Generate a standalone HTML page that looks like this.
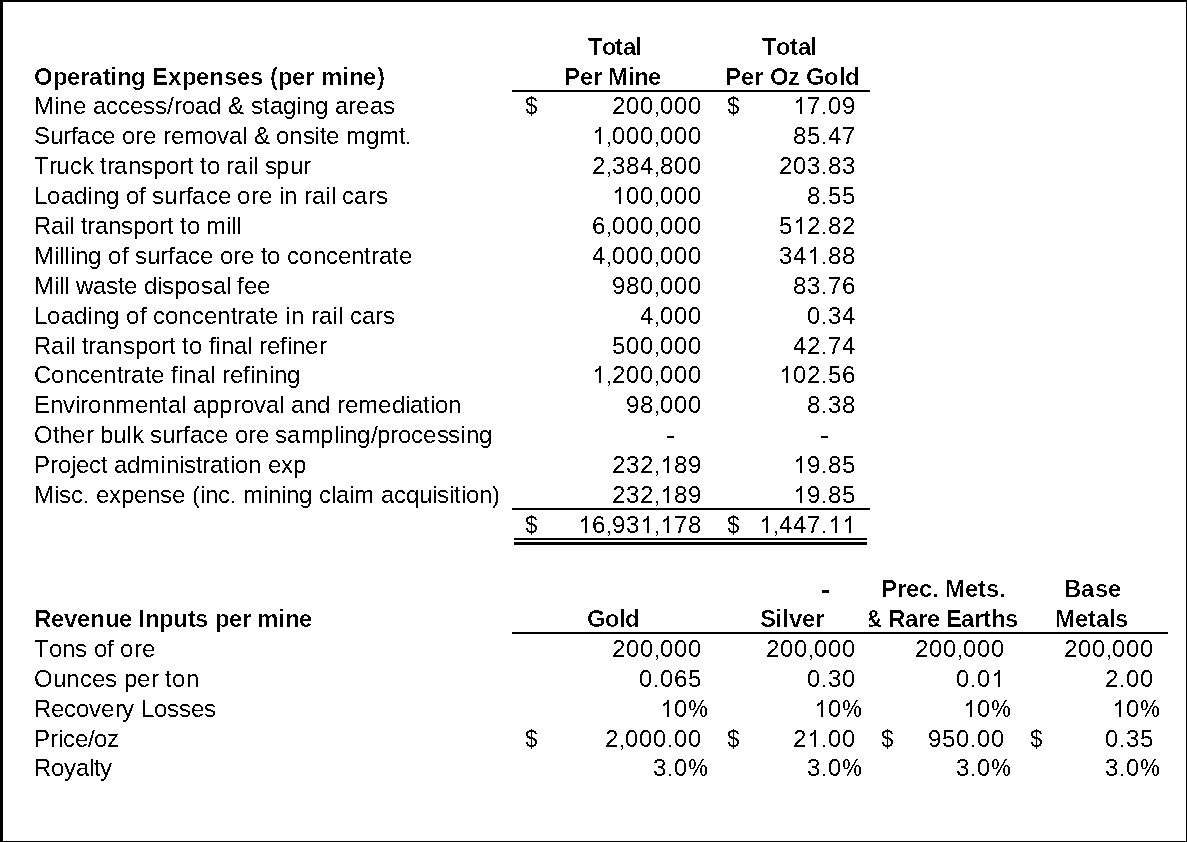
<!DOCTYPE html>
<html><head><meta charset="utf-8"><style>
html,body{margin:0;padding:0}
body{width:1187px;height:842px;position:relative;overflow:hidden;background:#fff}
#frame{position:absolute;left:0;top:0;width:1187px;height:842px;box-sizing:border-box;border-style:solid;border-color:#000;border-width:2px 1px 1px 3px}
#wrap{position:absolute;left:0;top:0;width:1187px;height:842px;filter:url(#a50)}
.L{position:absolute;left:0;width:1187px;height:30px;font-family:"Liberation Sans",sans-serif;font-size:24px;line-height:30px;white-space:pre;color:#000}
.L i{position:absolute;top:0;font-style:normal}
.b{font-weight:bold;filter:url(#a67)}
.r{position:absolute;background:#000}
.d{position:absolute;display:block;fill:#000;shape-rendering:crispEdges}
.clip{position:absolute;overflow:hidden}
.L i.pc{transform:translateX(0.2px) scaleX(0.917);transform-origin:0 0}
.L i.one{top:6px;width:2px;height:17px;background:#000;margin-left:7px}
.one::before{content:"";position:absolute;left:0;top:0;width:1px;height:1px;box-shadow:-1px 2px #000,-3px 3px #000,-2px 3px #000,-1px 3px #000,-4px 4px #000,-3px 4px #000,-2px 4px #000,-4px 5px #000,-3px 5px #000}
.L i.cm,.L i.pd{top:21px;width:2px;height:2px;background:#000;margin-left:2px}
.cm::after{content:"";position:absolute;left:1px;top:2px;width:1px;height:2px;background:#000}
.cm::before{content:"";position:absolute;left:0;top:4px;width:1px;height:1px;background:#000}
</style></head><body>
<svg width="0" height="0" style="position:absolute"><defs>
<filter id="a50" x="0" y="0" width="100%" height="100%" color-interpolation-filters="sRGB"><feComponentTransfer><feFuncA type="discrete" tableValues="0 1"/></feComponentTransfer></filter>
<filter id="a67" x="0" y="0" width="100%" height="100%" color-interpolation-filters="sRGB"><feComponentTransfer><feFuncA type="discrete" tableValues="0 0 1"/></feComponentTransfer></filter>
</defs></svg>
<div id="wrap">
<div class="L b" style="top:32px"><i style="left:588px">T</i><i style="left:602px">o</i><i style="left:615px">t</i><i style="left:623px">a</i><i style="left:635px">l</i></div>
<div class="L b" style="top:32px"><i style="left:762px">T</i><i style="left:776px">o</i><i style="left:790px">t</i><i style="left:798px">a</i><i style="left:810px">l</i></div>
<div class="L b" style="top:62px"><i style="left:34px">O</i><i style="left:53px">p</i><i style="left:67px">e</i><i style="left:80px">r</i><i style="left:89px">a</i><i style="left:103px">t</i><i style="left:110px">i</i><i style="left:117px">n</i><i style="left:131px">g</i><i style="left:152px">E</i><i style="left:168px">x</i><i style="left:182px">p</i><i style="left:196px">e</i><i style="left:209px">n</i><i style="left:224px">s</i><i style="left:237px">e</i><i style="left:250px">s</i><i style="left:270px">(</i><i style="left:278px">p</i><i style="left:292px">e</i><i style="left:305px">r</i><i style="left:321px">m</i><i style="left:342px">i</i><i style="left:349px">n</i><i style="left:363px">e</i><i style="left:377px">)</i></div>
<div class="L b" style="top:62px"><i style="left:564px">P</i><i style="left:580px">e</i><i style="left:593px">r</i><i style="left:608px">M</i><i style="left:628px">i</i><i style="left:634px">n</i><i style="left:648px">e</i></div>
<div class="L b" style="top:62px"><i style="left:725px">P</i><i style="left:741px">e</i><i style="left:754px">r</i><i style="left:770px">O</i><i style="left:788px">z</i><i style="left:806px">G</i><i style="left:824px">o</i><i style="left:839px">l</i><i style="left:845px">d</i></div>
<div class="L" style="top:91px"><i style="left:34px">M</i><i style="left:54px">i</i><i style="left:59px">n</i><i style="left:73px">e</i><i style="left:93px">a</i><i style="left:106px">c</i><i style="left:118px">c</i><i style="left:130px">e</i><i style="left:143px">s</i><i style="left:155px">s</i><i style="left:167px">/</i><i style="left:174px">r</i><i style="left:182px">o</i><i style="left:195px">a</i><i style="left:208px">d</i><i style="left:228px">&amp;</i><i style="left:251px">s</i><i style="left:263px">t</i><i style="left:270px">a</i><i style="left:283px">g</i><i style="left:296px">i</i><i style="left:302px">n</i><i style="left:315px">g</i><i style="left:335px">a</i><i style="left:348px">r</i><i style="left:356px">e</i><i style="left:370px">a</i><i style="left:383px">s</i></div>
<div class="L" style="top:121px"><i style="left:34px">S</i><i style="left:50px">u</i><i style="left:63px">r</i><i style="left:71px">f</i><i style="left:77px">a</i><i style="left:91px">c</i><i style="left:102px">e</i><i style="left:122px">o</i><i style="left:135px">r</i><i style="left:143px">e</i><i style="left:163px">r</i><i style="left:171px">e</i><i style="left:184px">m</i><i style="left:204px">o</i><i style="left:217px">v</i><i style="left:229px">a</i><i style="left:242px">l</i><i style="left:254px">&amp;</i><i style="left:276px">o</i><i style="left:289px">n</i><i style="left:303px">s</i><i style="left:314px">i</i><i style="left:320px">t</i><i style="left:326px">e</i><i style="left:346px">m</i><i style="left:366px">g</i><i style="left:379px">m</i><i style="left:399px">t</i><i class="pd" style="left:405px"></i></div>
<div class="L" style="top:151px"><i style="left:34px">T</i><i style="left:49px">r</i><i style="left:56px">u</i><i style="left:70px">c</i><i style="left:82px">k</i><i style="left:100px">t</i><i style="left:107px">r</i><i style="left:114px">a</i><i style="left:128px">n</i><i style="left:141px">s</i><i style="left:153px">p</i><i style="left:166px">o</i><i style="left:179px">r</i><i style="left:187px">t</i><i style="left:200px">t</i><i style="left:207px">o</i><i style="left:226px">r</i><i style="left:234px">a</i><i style="left:248px">i</i><i style="left:253px">l</i><i style="left:265px">s</i><i style="left:276px">p</i><i style="left:290px">u</i><i style="left:303px">r</i></div>
<div class="L" style="top:181px"><i style="left:34px">L</i><i style="left:47px">o</i><i style="left:61px">a</i><i style="left:74px">d</i><i style="left:87px">i</i><i style="left:93px">n</i><i style="left:106px">g</i><i style="left:126px">o</i><i style="left:139px">f</i><i style="left:152px">s</i><i style="left:164px">u</i><i style="left:178px">r</i><i style="left:186px">f</i><i style="left:192px">a</i><i style="left:206px">c</i><i style="left:218px">e</i><i style="left:237px">o</i><i style="left:251px">r</i><i style="left:259px">e</i><i style="left:279px">i</i><i style="left:284px">n</i><i style="left:304px">r</i><i style="left:312px">a</i><i style="left:325px">i</i><i style="left:331px">l</i><i style="left:342px">c</i><i style="left:354px">a</i><i style="left:368px">r</i><i style="left:376px">s</i></div>
<div class="L" style="top:211px"><i style="left:34px">R</i><i style="left:51px">a</i><i style="left:64px">i</i><i style="left:69px">l</i><i style="left:81px">t</i><i style="left:87px">r</i><i style="left:95px">a</i><i style="left:108px">n</i><i style="left:121px">s</i><i style="left:133px">p</i><i style="left:146px">o</i><i style="left:159px">r</i><i style="left:167px">t</i><i style="left:180px">t</i><i style="left:187px">o</i><i style="left:206px">m</i><i style="left:226px">i</i><i style="left:231px">l</i><i style="left:236px">l</i></div>
<div class="L" style="top:241px"><i style="left:34px">M</i><i style="left:54px">i</i><i style="left:59px">l</i><i style="left:64px">l</i><i style="left:70px">i</i><i style="left:75px">n</i><i style="left:88px">g</i><i style="left:108px">o</i><i style="left:122px">f</i><i style="left:135px">s</i><i style="left:147px">u</i><i style="left:160px">r</i><i style="left:168px">f</i><i style="left:175px">a</i><i style="left:188px">c</i><i style="left:200px">e</i><i style="left:220px">o</i><i style="left:233px">r</i><i style="left:241px">e</i><i style="left:261px">t</i><i style="left:267px">o</i><i style="left:287px">c</i><i style="left:299px">o</i><i style="left:313px">n</i><i style="left:326px">c</i><i style="left:338px">e</i><i style="left:351px">n</i><i style="left:364px">t</i><i style="left:371px">r</i><i style="left:379px">a</i><i style="left:392px">t</i><i style="left:399px">e</i></div>
<div class="L" style="top:271px"><i style="left:34px">M</i><i style="left:54px">i</i><i style="left:59px">l</i><i style="left:64px">l</i><i style="left:76px">w</i><i style="left:93px">a</i><i style="left:106px">s</i><i style="left:118px">t</i><i style="left:124px">e</i><i style="left:144px">d</i><i style="left:157px">i</i><i style="left:162px">s</i><i style="left:174px">p</i><i style="left:187px">o</i><i style="left:201px">s</i><i style="left:213px">a</i><i style="left:226px">l</i><i style="left:237px">f</i><i style="left:244px">e</i><i style="left:257px">e</i></div>
<div class="L" style="top:301px"><i style="left:34px">L</i><i style="left:47px">o</i><i style="left:61px">a</i><i style="left:74px">d</i><i style="left:87px">i</i><i style="left:93px">n</i><i style="left:106px">g</i><i style="left:126px">o</i><i style="left:140px">f</i><i style="left:153px">c</i><i style="left:165px">o</i><i style="left:178px">n</i><i style="left:192px">c</i><i style="left:204px">e</i><i style="left:217px">n</i><i style="left:231px">t</i><i style="left:237px">r</i><i style="left:245px">a</i><i style="left:259px">t</i><i style="left:265px">e</i><i style="left:285px">i</i><i style="left:291px">n</i><i style="left:311px">r</i><i style="left:319px">a</i><i style="left:332px">i</i><i style="left:338px">l</i><i style="left:350px">c</i><i style="left:362px">a</i><i style="left:375px">r</i><i style="left:383px">s</i></div>
<div class="L" style="top:331px"><i style="left:34px">R</i><i style="left:51px">a</i><i style="left:65px">i</i><i style="left:70px">l</i><i style="left:82px">t</i><i style="left:88px">r</i><i style="left:96px">a</i><i style="left:109px">n</i><i style="left:123px">s</i><i style="left:135px">p</i><i style="left:148px">o</i><i style="left:161px">r</i><i style="left:169px">t</i><i style="left:182px">t</i><i style="left:189px">o</i><i style="left:209px">f</i><i style="left:215px">i</i><i style="left:221px">n</i><i style="left:234px">a</i><i style="left:247px">l</i><i style="left:259px">r</i><i style="left:267px">e</i><i style="left:280px">f</i><i style="left:287px">i</i><i style="left:292px">n</i><i style="left:305px">e</i><i style="left:319px">r</i></div>
<div class="L" style="top:360px"><i style="left:34px">C</i><i style="left:51px">o</i><i style="left:65px">n</i><i style="left:78px">c</i><i style="left:90px">e</i><i style="left:103px">n</i><i style="left:117px">t</i><i style="left:123px">r</i><i style="left:131px">a</i><i style="left:145px">t</i><i style="left:151px">e</i><i style="left:171px">f</i><i style="left:178px">i</i><i style="left:183px">n</i><i style="left:197px">a</i><i style="left:210px">l</i><i style="left:222px">r</i><i style="left:230px">e</i><i style="left:243px">f</i><i style="left:250px">i</i><i style="left:255px">n</i><i style="left:269px">i</i><i style="left:274px">n</i><i style="left:287px">g</i></div>
<div class="L" style="top:390px"><i style="left:34px">E</i><i style="left:50px">n</i><i style="left:63px">v</i><i style="left:75px">i</i><i style="left:80px">r</i><i style="left:88px">o</i><i style="left:102px">n</i><i style="left:115px">m</i><i style="left:135px">e</i><i style="left:148px">n</i><i style="left:161px">t</i><i style="left:168px">a</i><i style="left:181px">l</i><i style="left:193px">a</i><i style="left:206px">p</i><i style="left:219px">p</i><i style="left:233px">r</i><i style="left:241px">o</i><i style="left:254px">v</i><i style="left:266px">a</i><i style="left:279px">l</i><i style="left:291px">a</i><i style="left:304px">n</i><i style="left:317px">d</i><i style="left:337px">r</i><i style="left:345px">e</i><i style="left:358px">m</i><i style="left:378px">e</i><i style="left:392px">d</i><i style="left:405px">i</i><i style="left:410px">a</i><i style="left:423px">t</i><i style="left:430px">i</i><i style="left:435px">o</i><i style="left:448px">n</i></div>
<div class="L" style="top:420px"><i style="left:34px">O</i><i style="left:53px">t</i><i style="left:59px">h</i><i style="left:72px">e</i><i style="left:86px">r</i><i style="left:100px">b</i><i style="left:113px">u</i><i style="left:126px">l</i><i style="left:132px">k</i><i style="left:150px">s</i><i style="left:162px">u</i><i style="left:175px">r</i><i style="left:183px">f</i><i style="left:190px">a</i><i style="left:203px">c</i><i style="left:215px">e</i><i style="left:235px">o</i><i style="left:248px">r</i><i style="left:256px">e</i><i style="left:275px">s</i><i style="left:287px">a</i><i style="left:301px">m</i><i style="left:320px">p</i><i style="left:334px">l</i><i style="left:339px">i</i><i style="left:344px">n</i><i style="left:357px">g</i><i style="left:371px">/</i><i style="left:377px">p</i><i style="left:390px">r</i><i style="left:398px">o</i><i style="left:411px">c</i><i style="left:423px">e</i><i style="left:437px">s</i><i style="left:448px">s</i><i style="left:460px">i</i><i style="left:466px">n</i><i style="left:479px">g</i></div>
<div class="L" style="top:450px"><i style="left:34px">P</i><i style="left:50px">r</i><i style="left:58px">o</i><i style="left:71px">j</i><i style="left:76px">e</i><i style="left:89px">c</i><i style="left:101px">t</i><i style="left:114px">a</i><i style="left:127px">d</i><i style="left:140px">m</i><i style="left:160px">i</i><i style="left:166px">n</i><i style="left:179px">i</i><i style="left:184px">s</i><i style="left:196px">t</i><i style="left:202px">r</i><i style="left:210px">a</i><i style="left:223px">t</i><i style="left:230px">i</i><i style="left:235px">o</i><i style="left:248px">n</i><i style="left:268px">e</i><i style="left:281px">x</i><i style="left:293px">p</i></div>
<div class="L" style="top:480px"><i style="left:34px">M</i><i style="left:54px">i</i><i style="left:59px">s</i><i style="left:71px">c</i><i class="pd" style="left:83px"></i><i style="left:96px">e</i><i style="left:109px">x</i><i style="left:121px">p</i><i style="left:134px">e</i><i style="left:147px">n</i><i style="left:160px">s</i><i style="left:172px">e</i><i style="left:192px">(</i><i style="left:200px">i</i><i style="left:205px">n</i><i style="left:218px">c</i><i class="pd" style="left:230px"></i><i style="left:243px">m</i><i style="left:263px">i</i><i style="left:268px">n</i><i style="left:281px">i</i><i style="left:286px">n</i><i style="left:299px">g</i><i style="left:319px">c</i><i style="left:331px">l</i><i style="left:336px">a</i><i style="left:349px">i</i><i style="left:354px">m</i><i style="left:381px">a</i><i style="left:394px">c</i><i style="left:406px">q</i><i style="left:419px">u</i><i style="left:432px">i</i><i style="left:437px">s</i><i style="left:449px">i</i><i style="left:454px">t</i><i style="left:461px">i</i><i style="left:466px">o</i><i style="left:479px">n</i><i style="left:492px">)</i></div>
<div class="L" style="top:91px"><i style="left:612px">2</i><i style="left:626px">0</i><i style="left:640px">0</i><i class="cm" style="left:654px"></i><i style="left:660px">0</i><i style="left:674px">0</i><i style="left:688px">0</i></div>
<div class="L" style="top:121px"><i class="one" style="left:592px"></i><i class="cm" style="left:606px"></i><i style="left:612px">0</i><i style="left:626px">0</i><i style="left:640px">0</i><i class="cm" style="left:654px"></i><i style="left:660px">0</i><i style="left:674px">0</i><i style="left:688px">0</i></div>
<div class="L" style="top:151px"><i style="left:592px">2</i><i class="cm" style="left:606px"></i><i style="left:612px">3</i><i style="left:626px">8</i><i style="left:640px">4</i><i class="cm" style="left:654px"></i><i style="left:660px">8</i><i style="left:674px">0</i><i style="left:688px">0</i></div>
<div class="L" style="top:181px"><i class="one" style="left:612px"></i><i style="left:626px">0</i><i style="left:640px">0</i><i class="cm" style="left:654px"></i><i style="left:660px">0</i><i style="left:674px">0</i><i style="left:688px">0</i></div>
<div class="L" style="top:211px"><i style="left:592px">6</i><i class="cm" style="left:606px"></i><i style="left:612px">0</i><i style="left:626px">0</i><i style="left:640px">0</i><i class="cm" style="left:654px"></i><i style="left:660px">0</i><i style="left:674px">0</i><i style="left:688px">0</i></div>
<div class="L" style="top:241px"><i style="left:592px">4</i><i class="cm" style="left:606px"></i><i style="left:612px">0</i><i style="left:626px">0</i><i style="left:640px">0</i><i class="cm" style="left:654px"></i><i style="left:660px">0</i><i style="left:674px">0</i><i style="left:688px">0</i></div>
<div class="L" style="top:271px"><i style="left:612px">9</i><i style="left:626px">8</i><i style="left:640px">0</i><i class="cm" style="left:654px"></i><i style="left:660px">0</i><i style="left:674px">0</i><i style="left:688px">0</i></div>
<div class="L" style="top:301px"><i style="left:640px">4</i><i class="cm" style="left:654px"></i><i style="left:660px">0</i><i style="left:674px">0</i><i style="left:688px">0</i></div>
<div class="L" style="top:331px"><i style="left:612px">5</i><i style="left:626px">0</i><i style="left:640px">0</i><i class="cm" style="left:654px"></i><i style="left:660px">0</i><i style="left:674px">0</i><i style="left:688px">0</i></div>
<div class="L" style="top:360px"><i class="one" style="left:592px"></i><i class="cm" style="left:606px"></i><i style="left:612px">2</i><i style="left:626px">0</i><i style="left:640px">0</i><i class="cm" style="left:654px"></i><i style="left:660px">0</i><i style="left:674px">0</i><i style="left:688px">0</i></div>
<div class="L" style="top:390px"><i style="left:626px">9</i><i style="left:640px">8</i><i class="cm" style="left:654px"></i><i style="left:660px">0</i><i style="left:674px">0</i><i style="left:688px">0</i></div>
<div class="L" style="top:450px"><i style="left:612px">2</i><i style="left:626px">3</i><i style="left:640px">2</i><i class="cm" style="left:654px"></i><i class="one" style="left:660px"></i><i style="left:674px">8</i><i style="left:688px">9</i></div>
<div class="L" style="top:480px"><i style="left:612px">2</i><i style="left:626px">3</i><i style="left:640px">2</i><i class="cm" style="left:654px"></i><i class="one" style="left:660px"></i><i style="left:674px">8</i><i style="left:688px">9</i></div>
<div class="L" style="top:91px"><i class="one" style="left:793px"></i><i style="left:807px">7</i><i class="pd" style="left:821px"></i><i style="left:828px">0</i><i style="left:842px">9</i></div>
<div class="L" style="top:121px"><i style="left:793px">8</i><i style="left:807px">5</i><i class="pd" style="left:821px"></i><i style="left:828px">4</i><i style="left:842px">7</i></div>
<div class="L" style="top:151px"><i style="left:779px">2</i><i style="left:793px">0</i><i style="left:807px">3</i><i class="pd" style="left:821px"></i><i style="left:828px">8</i><i style="left:842px">3</i></div>
<div class="L" style="top:181px"><i style="left:807px">8</i><i class="pd" style="left:821px"></i><i style="left:828px">5</i><i style="left:842px">5</i></div>
<div class="L" style="top:211px"><i style="left:779px">5</i><i class="one" style="left:793px"></i><i style="left:807px">2</i><i class="pd" style="left:821px"></i><i style="left:828px">8</i><i style="left:842px">2</i></div>
<div class="L" style="top:241px"><i style="left:779px">3</i><i style="left:793px">4</i><i class="one" style="left:807px"></i><i class="pd" style="left:821px"></i><i style="left:828px">8</i><i style="left:842px">8</i></div>
<div class="L" style="top:271px"><i style="left:793px">8</i><i style="left:807px">3</i><i class="pd" style="left:821px"></i><i style="left:828px">7</i><i style="left:842px">6</i></div>
<div class="L" style="top:301px"><i style="left:807px">0</i><i class="pd" style="left:821px"></i><i style="left:828px">3</i><i style="left:842px">4</i></div>
<div class="L" style="top:331px"><i style="left:793px">4</i><i style="left:807px">2</i><i class="pd" style="left:821px"></i><i style="left:828px">7</i><i style="left:842px">4</i></div>
<div class="L" style="top:360px"><i class="one" style="left:779px"></i><i style="left:793px">0</i><i style="left:807px">2</i><i class="pd" style="left:821px"></i><i style="left:828px">5</i><i style="left:842px">6</i></div>
<div class="L" style="top:390px"><i style="left:807px">8</i><i class="pd" style="left:821px"></i><i style="left:828px">3</i><i style="left:842px">8</i></div>
<div class="L" style="top:450px"><i class="one" style="left:793px"></i><i style="left:807px">9</i><i class="pd" style="left:821px"></i><i style="left:828px">8</i><i style="left:842px">5</i></div>
<div class="L" style="top:480px"><i class="one" style="left:793px"></i><i style="left:807px">9</i><i class="pd" style="left:821px"></i><i style="left:828px">8</i><i style="left:842px">5</i></div>
<div class="L" style="top:510px"><i class="one" style="left:578px"></i><i style="left:592px">6</i><i class="cm" style="left:606px"></i><i style="left:612px">9</i><i style="left:626px">3</i><i class="one" style="left:640px"></i><i class="cm" style="left:654px"></i><i class="one" style="left:660px"></i><i style="left:674px">7</i><i style="left:688px">8</i></div>
<div class="L" style="top:510px"><i class="one" style="left:759px"></i><i class="cm" style="left:773px"></i><i style="left:779px">4</i><i style="left:793px">4</i><i style="left:807px">7</i><i class="pd" style="left:821px"></i><i class="one" style="left:828px"></i><i class="one" style="left:842px"></i></div>
<div class="L b" style="top:574px"><i style="left:881px">P</i><i style="left:897px">r</i><i style="left:906px">e</i><i style="left:919px">c</i><i style="left:932px">.</i><i style="left:945px">M</i><i style="left:965px">e</i><i style="left:978px">t</i><i style="left:986px">s</i><i style="left:999px">.</i></div>
<div class="L b" style="top:574px"><i style="left:1064px">B</i><i style="left:1081px">a</i><i style="left:1095px">s</i><i style="left:1108px">e</i></div>
<div class="L b" style="top:604px"><i style="left:34px">R</i><i style="left:51px">e</i><i style="left:64px">v</i><i style="left:77px">e</i><i style="left:90px">n</i><i style="left:105px">u</i><i style="left:119px">e</i><i style="left:138px">I</i><i style="left:145px">n</i><i style="left:159px">p</i><i style="left:173px">u</i><i style="left:188px">t</i><i style="left:195px">s</i><i style="left:215px">p</i><i style="left:229px">e</i><i style="left:242px">r</i><i style="left:257px">m</i><i style="left:278px">i</i><i style="left:285px">n</i><i style="left:299px">e</i></div>
<div class="L b" style="top:604px"><i style="left:587px">G</i><i style="left:605px">o</i><i style="left:619px">l</i><i style="left:625px">d</i></div>
<div class="L b" style="top:604px"><i style="left:760px">S</i><i style="left:775px">i</i><i style="left:782px">l</i><i style="left:789px">v</i><i style="left:802px">e</i><i style="left:815px">r</i></div>
<div class="L b" style="top:604px"><i style="left:1055px">M</i><i style="left:1075px">e</i><i style="left:1088px">t</i><i style="left:1096px">a</i><i style="left:1109px">l</i><i style="left:1115px">s</i></div>
<div class="L" style="top:634px"><i style="left:34px">T</i><i style="left:49px">o</i><i style="left:62px">n</i><i style="left:75px">s</i><i style="left:94px">o</i><i style="left:107px">f</i><i style="left:120px">o</i><i style="left:134px">r</i><i style="left:142px">e</i></div>
<div class="L" style="top:664px"><i style="left:34px">O</i><i style="left:53px">u</i><i style="left:66px">n</i><i style="left:80px">c</i><i style="left:92px">e</i><i style="left:105px">s</i><i style="left:124px">p</i><i style="left:137px">e</i><i style="left:151px">r</i><i style="left:165px">t</i><i style="left:172px">o</i><i style="left:186px">n</i></div>
<div class="L" style="top:694px"><i style="left:34px">R</i><i style="left:51px">e</i><i style="left:64px">c</i><i style="left:76px">o</i><i style="left:89px">v</i><i style="left:101px">e</i><i style="left:115px">r</i><i style="left:122px">y</i><i style="left:141px">L</i><i style="left:154px">o</i><i style="left:167px">s</i><i style="left:179px">s</i><i style="left:191px">e</i><i style="left:204px">s</i></div>
<div class="L" style="top:724px"><i style="left:34px">P</i><i style="left:50px">r</i><i style="left:58px">i</i><i style="left:63px">c</i><i style="left:75px">e</i><i style="left:88px">/</i><i style="left:94px">o</i><i style="left:107px">z</i></div>
<div class="L" style="top:753px"><i style="left:34px">R</i><i style="left:51px">o</i><i style="left:64px">y</i><i style="left:76px">a</i><i style="left:89px">l</i><i style="left:94px">t</i><i style="left:100px">y</i></div>
<div class="L" style="top:634px"><i style="left:612px">2</i><i style="left:626px">0</i><i style="left:640px">0</i><i class="cm" style="left:654px"></i><i style="left:660px">0</i><i style="left:674px">0</i><i style="left:688px">0</i></div>
<div class="L" style="top:634px"><i style="left:766px">2</i><i style="left:780px">0</i><i style="left:794px">0</i><i class="cm" style="left:808px"></i><i style="left:814px">0</i><i style="left:828px">0</i><i style="left:842px">0</i></div>
<div class="L" style="top:634px"><i style="left:915px">2</i><i style="left:929px">0</i><i style="left:943px">0</i><i class="cm" style="left:957px"></i><i style="left:963px">0</i><i style="left:977px">0</i><i style="left:991px">0</i></div>
<div class="L" style="top:634px"><i style="left:1064px">2</i><i style="left:1078px">0</i><i style="left:1092px">0</i><i class="cm" style="left:1106px"></i><i style="left:1112px">0</i><i style="left:1126px">0</i><i style="left:1140px">0</i></div>
<div class="L" style="top:664px"><i style="left:639px">0</i><i class="pd" style="left:653px"></i><i style="left:660px">0</i><i style="left:674px">6</i><i style="left:688px">5</i></div>
<div class="L" style="top:664px"><i style="left:807px">0</i><i class="pd" style="left:821px"></i><i style="left:828px">3</i><i style="left:842px">0</i></div>
<div class="L" style="top:664px"><i style="left:956px">0</i><i class="pd" style="left:970px"></i><i style="left:977px">0</i><i class="one" style="left:991px"></i></div>
<div class="L" style="top:664px"><i style="left:1105px">2</i><i class="pd" style="left:1119px"></i><i style="left:1126px">0</i><i style="left:1140px">0</i></div>
<div class="L" style="top:694px"><i class="one" style="left:660px"></i><i style="left:674px">0</i><i class="pc" style="left:688px">%</i></div>
<div class="L" style="top:694px"><i class="one" style="left:814px"></i><i style="left:828px">0</i><i class="pc" style="left:842px">%</i></div>
<div class="L" style="top:694px"><i class="one" style="left:963px"></i><i style="left:977px">0</i><i class="pc" style="left:991px">%</i></div>
<div class="L" style="top:694px"><i class="one" style="left:1112px"></i><i style="left:1126px">0</i><i class="pc" style="left:1140px">%</i></div>
<div class="L" style="top:724px"><i style="left:605px">2</i><i class="cm" style="left:619px"></i><i style="left:625px">0</i><i style="left:639px">0</i><i style="left:653px">0</i><i class="pd" style="left:667px"></i><i style="left:674px">0</i><i style="left:688px">0</i></div>
<div class="L" style="top:724px"><i style="left:793px">2</i><i class="one" style="left:807px"></i><i class="pd" style="left:821px"></i><i style="left:828px">0</i><i style="left:842px">0</i></div>
<div class="L" style="top:724px"><i style="left:928px">9</i><i style="left:942px">5</i><i style="left:956px">0</i><i class="pd" style="left:970px"></i><i style="left:977px">0</i><i style="left:991px">0</i></div>
<div class="L" style="top:724px"><i style="left:1105px">0</i><i class="pd" style="left:1119px"></i><i style="left:1126px">3</i><i style="left:1140px">5</i></div>
<div class="L" style="top:753px"><i style="left:653px">3</i><i class="pd" style="left:667px"></i><i style="left:674px">0</i><i class="pc" style="left:688px">%</i></div>
<div class="L" style="top:753px"><i style="left:807px">3</i><i class="pd" style="left:821px"></i><i style="left:828px">0</i><i class="pc" style="left:842px">%</i></div>
<div class="L" style="top:753px"><i style="left:956px">3</i><i class="pd" style="left:970px"></i><i style="left:977px">0</i><i class="pc" style="left:991px">%</i></div>
<div class="L" style="top:753px"><i style="left:1105px">3</i><i class="pd" style="left:1119px"></i><i style="left:1126px">0</i><i class="pc" style="left:1140px">%</i></div>
<div class="clip" style="left:869px;top:604px;width:149px;height:30px"><div class="L b" style="top:0;width:149px"><i style="left:-4px">&amp;</i><i style="left:19px">R</i><i style="left:36px">a</i><i style="left:49px">r</i><i style="left:58px">e</i><i style="left:77px">E</i><i style="left:92px">a</i><i style="left:105px">r</i><i style="left:114px">t</i><i style="left:122px">h</i><i style="left:136px">s</i></div></div>
</div>
<div class="r" style="left:512px;top:90px;width:358px;height:2px"></div><div class="r" style="left:512px;top:508px;width:358px;height:2px"></div><div class="r" style="left:514px;top:538px;width:353px;height:2px"></div><div class="r" style="left:514px;top:542px;width:353px;height:3px"></div><div class="r" style="left:512px;top:632px;width:656px;height:2px"></div><div class="r" style="left:667px;top:436px;width:7px;height:2px"></div><div class="r" style="left:821px;top:436px;width:7px;height:2px"></div><div class="r" style="left:822px;top:590px;width:7px;height:3px"></div>
<svg class="d" style="left:526px;top:96px" width="11" height="20" viewBox="0 0 11 20"><path d="M5 0h1v1h-1zM3 1h5v1h-5zM1 2h9v1h-9zM0 3h3v1h-3zM5 3h1v1h-1zM8 3h2v1h-2zM0 4h2v1h-2zM5 4h1v1h-1zM9 4h2v1h-2zM0 5h2v1h-2zM5 5h1v1h-1zM0 6h2v1h-2zM5 6h1v1h-1zM1 7h3v1h-3zM5 7h1v1h-1zM1 8h6v1h-6zM3 9h6v1h-6zM5 10h1v1h-1zM7 10h3v1h-3zM5 11h1v1h-1zM8 11h3v1h-3zM5 12h1v1h-1zM9 12h2v1h-2zM0 13h2v1h-2zM5 13h1v1h-1zM9 13h2v1h-2zM0 14h2v1h-2zM5 14h1v1h-1zM9 14h2v1h-2zM1 15h2v1h-2zM5 15h1v1h-1zM8 15h2v1h-2zM1 16h9v1h-9zM3 17h5v1h-5zM5 18h1v1h-1zM5 19h1v1h-1z"/></svg><svg class="d" style="left:728px;top:96px" width="11" height="20" viewBox="0 0 11 20"><path d="M5 0h1v1h-1zM3 1h5v1h-5zM1 2h9v1h-9zM0 3h3v1h-3zM5 3h1v1h-1zM8 3h2v1h-2zM0 4h2v1h-2zM5 4h1v1h-1zM9 4h2v1h-2zM0 5h2v1h-2zM5 5h1v1h-1zM0 6h2v1h-2zM5 6h1v1h-1zM1 7h3v1h-3zM5 7h1v1h-1zM1 8h6v1h-6zM3 9h6v1h-6zM5 10h1v1h-1zM7 10h3v1h-3zM5 11h1v1h-1zM8 11h3v1h-3zM5 12h1v1h-1zM9 12h2v1h-2zM0 13h2v1h-2zM5 13h1v1h-1zM9 13h2v1h-2zM0 14h2v1h-2zM5 14h1v1h-1zM9 14h2v1h-2zM1 15h2v1h-2zM5 15h1v1h-1zM8 15h2v1h-2zM1 16h9v1h-9zM3 17h5v1h-5zM5 18h1v1h-1zM5 19h1v1h-1z"/></svg><svg class="d" style="left:526px;top:515px" width="11" height="20" viewBox="0 0 11 20"><path d="M5 0h1v1h-1zM3 1h5v1h-5zM1 2h9v1h-9zM0 3h3v1h-3zM5 3h1v1h-1zM8 3h2v1h-2zM0 4h2v1h-2zM5 4h1v1h-1zM9 4h2v1h-2zM0 5h2v1h-2zM5 5h1v1h-1zM0 6h2v1h-2zM5 6h1v1h-1zM1 7h3v1h-3zM5 7h1v1h-1zM1 8h6v1h-6zM3 9h6v1h-6zM5 10h1v1h-1zM7 10h3v1h-3zM5 11h1v1h-1zM8 11h3v1h-3zM5 12h1v1h-1zM9 12h2v1h-2zM0 13h2v1h-2zM5 13h1v1h-1zM9 13h2v1h-2zM0 14h2v1h-2zM5 14h1v1h-1zM9 14h2v1h-2zM1 15h2v1h-2zM5 15h1v1h-1zM8 15h2v1h-2zM1 16h9v1h-9zM3 17h5v1h-5zM5 18h1v1h-1zM5 19h1v1h-1z"/></svg><svg class="d" style="left:728px;top:515px" width="11" height="20" viewBox="0 0 11 20"><path d="M5 0h1v1h-1zM3 1h5v1h-5zM1 2h9v1h-9zM0 3h3v1h-3zM5 3h1v1h-1zM8 3h2v1h-2zM0 4h2v1h-2zM5 4h1v1h-1zM9 4h2v1h-2zM0 5h2v1h-2zM5 5h1v1h-1zM0 6h2v1h-2zM5 6h1v1h-1zM1 7h3v1h-3zM5 7h1v1h-1zM1 8h6v1h-6zM3 9h6v1h-6zM5 10h1v1h-1zM7 10h3v1h-3zM5 11h1v1h-1zM8 11h3v1h-3zM5 12h1v1h-1zM9 12h2v1h-2zM0 13h2v1h-2zM5 13h1v1h-1zM9 13h2v1h-2zM0 14h2v1h-2zM5 14h1v1h-1zM9 14h2v1h-2zM1 15h2v1h-2zM5 15h1v1h-1zM8 15h2v1h-2zM1 16h9v1h-9zM3 17h5v1h-5zM5 18h1v1h-1zM5 19h1v1h-1z"/></svg><svg class="d" style="left:526px;top:729px" width="11" height="20" viewBox="0 0 11 20"><path d="M5 0h1v1h-1zM3 1h5v1h-5zM1 2h9v1h-9zM0 3h3v1h-3zM5 3h1v1h-1zM8 3h2v1h-2zM0 4h2v1h-2zM5 4h1v1h-1zM9 4h2v1h-2zM0 5h2v1h-2zM5 5h1v1h-1zM0 6h2v1h-2zM5 6h1v1h-1zM1 7h3v1h-3zM5 7h1v1h-1zM1 8h6v1h-6zM3 9h6v1h-6zM5 10h1v1h-1zM7 10h3v1h-3zM5 11h1v1h-1zM8 11h3v1h-3zM5 12h1v1h-1zM9 12h2v1h-2zM0 13h2v1h-2zM5 13h1v1h-1zM9 13h2v1h-2zM0 14h2v1h-2zM5 14h1v1h-1zM9 14h2v1h-2zM1 15h2v1h-2zM5 15h1v1h-1zM8 15h2v1h-2zM1 16h9v1h-9zM3 17h5v1h-5zM5 18h1v1h-1zM5 19h1v1h-1z"/></svg><svg class="d" style="left:728px;top:729px" width="11" height="20" viewBox="0 0 11 20"><path d="M5 0h1v1h-1zM3 1h5v1h-5zM1 2h9v1h-9zM0 3h3v1h-3zM5 3h1v1h-1zM8 3h2v1h-2zM0 4h2v1h-2zM5 4h1v1h-1zM9 4h2v1h-2zM0 5h2v1h-2zM5 5h1v1h-1zM0 6h2v1h-2zM5 6h1v1h-1zM1 7h3v1h-3zM5 7h1v1h-1zM1 8h6v1h-6zM3 9h6v1h-6zM5 10h1v1h-1zM7 10h3v1h-3zM5 11h1v1h-1zM8 11h3v1h-3zM5 12h1v1h-1zM9 12h2v1h-2zM0 13h2v1h-2zM5 13h1v1h-1zM9 13h2v1h-2zM0 14h2v1h-2zM5 14h1v1h-1zM9 14h2v1h-2zM1 15h2v1h-2zM5 15h1v1h-1zM8 15h2v1h-2zM1 16h9v1h-9zM3 17h5v1h-5zM5 18h1v1h-1zM5 19h1v1h-1z"/></svg><svg class="d" style="left:882px;top:729px" width="11" height="20" viewBox="0 0 11 20"><path d="M5 0h1v1h-1zM3 1h5v1h-5zM1 2h9v1h-9zM0 3h3v1h-3zM5 3h1v1h-1zM8 3h2v1h-2zM0 4h2v1h-2zM5 4h1v1h-1zM9 4h2v1h-2zM0 5h2v1h-2zM5 5h1v1h-1zM0 6h2v1h-2zM5 6h1v1h-1zM1 7h3v1h-3zM5 7h1v1h-1zM1 8h6v1h-6zM3 9h6v1h-6zM5 10h1v1h-1zM7 10h3v1h-3zM5 11h1v1h-1zM8 11h3v1h-3zM5 12h1v1h-1zM9 12h2v1h-2zM0 13h2v1h-2zM5 13h1v1h-1zM9 13h2v1h-2zM0 14h2v1h-2zM5 14h1v1h-1zM9 14h2v1h-2zM1 15h2v1h-2zM5 15h1v1h-1zM8 15h2v1h-2zM1 16h9v1h-9zM3 17h5v1h-5zM5 18h1v1h-1zM5 19h1v1h-1z"/></svg><svg class="d" style="left:1031px;top:729px" width="11" height="20" viewBox="0 0 11 20"><path d="M5 0h1v1h-1zM3 1h5v1h-5zM1 2h9v1h-9zM0 3h3v1h-3zM5 3h1v1h-1zM8 3h2v1h-2zM0 4h2v1h-2zM5 4h1v1h-1zM9 4h2v1h-2zM0 5h2v1h-2zM5 5h1v1h-1zM0 6h2v1h-2zM5 6h1v1h-1zM1 7h3v1h-3zM5 7h1v1h-1zM1 8h6v1h-6zM3 9h6v1h-6zM5 10h1v1h-1zM7 10h3v1h-3zM5 11h1v1h-1zM8 11h3v1h-3zM5 12h1v1h-1zM9 12h2v1h-2zM0 13h2v1h-2zM5 13h1v1h-1zM9 13h2v1h-2zM0 14h2v1h-2zM5 14h1v1h-1zM9 14h2v1h-2zM1 15h2v1h-2zM5 15h1v1h-1zM8 15h2v1h-2zM1 16h9v1h-9zM3 17h5v1h-5zM5 18h1v1h-1zM5 19h1v1h-1z"/></svg>
<div id="frame"></div>
</body></html>
